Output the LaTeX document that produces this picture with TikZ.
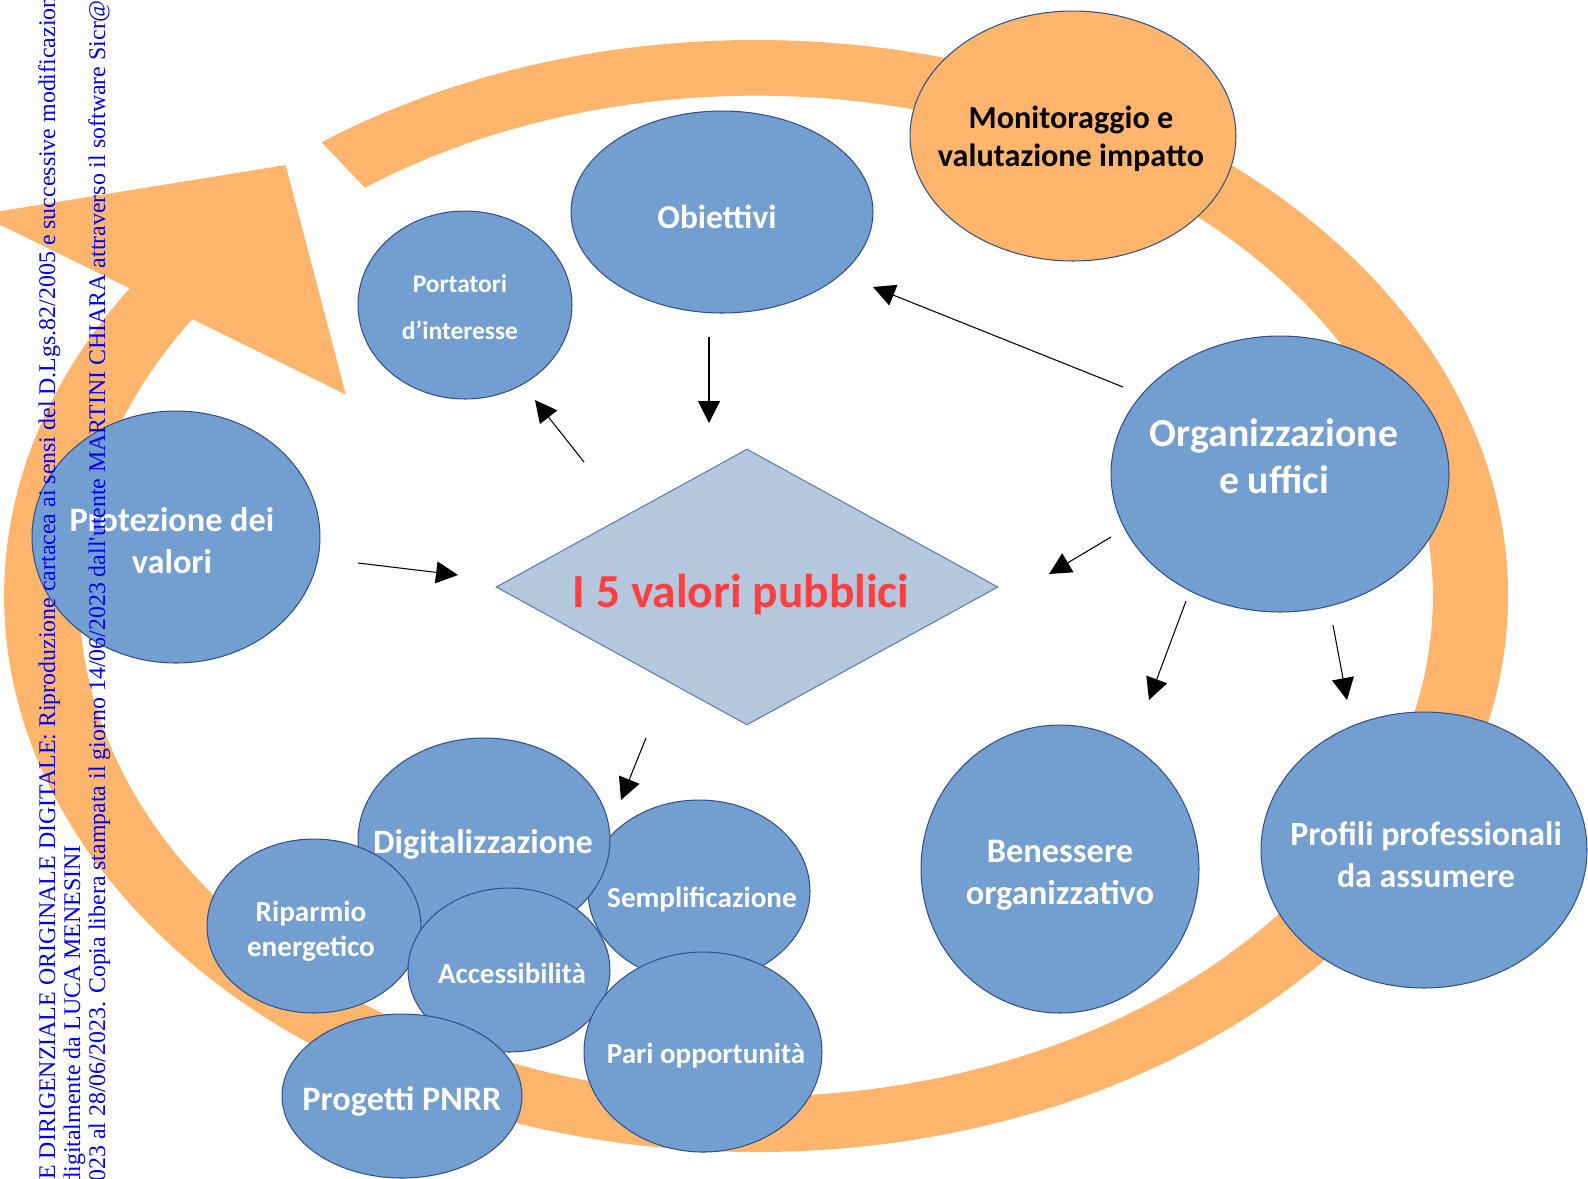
\documentclass[tikz,border=0pt]{standalone}
\usepackage{fontspec}
\setmainfont{Carlito}
\newfontfamily\timbrofont{Liberation Serif}
\usetikzlibrary{arrows.meta,shapes.geometric}
\definecolor{anello}{HTML}{FFB56B}
\definecolor{blu}{HTML}{729FCF}
\definecolor{bordo}{HTML}{2F528F}
\definecolor{rombo}{HTML}{B4C7DC}
\definecolor{rosso}{HTML}{FF3F3F}
\definecolor{timbroblu}{HTML}{0000FF}

\tikzset{
  valore/.style={ellipse, draw=bordo, line width=0.6pt, fill=blu, inner sep=0pt},
  testo/.style={text=white, align=center, inner sep=0pt},
  freccia/.style={-{Triangle[length=12.5pt,width=12.5pt]}, line width=0.6pt},
  timbro/.style={rotate=90, text=timbroblu, inner sep=0pt, font=\timbrofont\fontsize{13.6}{14}\selectfont},
}

\begin{document}
\begin{tikzpicture}[x=0.02cm,y=-0.02cm]
  \useasboundingbox (0,0) rectangle (1588,1178);
  \clip (0,0) rectangle (1588,1178);
  % the circular arrow, a ring with its head at the upper left
  \begin{scope}[shift={(756,596)},xscale=752,yscale=-556]
    \fill[anello] (125.3:1) arc[start angle=125.3,end angle=-213.6,radius=1]
      -- (-213.6:1.24) -- (128.9:0.996) -- (-213.6:0.655) -- (-213.6:0.9)
      arc[start angle=-213.6,end angle=125.3,radius=0.9] -- cycle;
  \end{scope}

  \node[valore, fill=anello, minimum width=6.52cm, minimum height=5cm] (mon) at (1073,136) {};
  \node[testo, text=black, font=\fontsize{18.3}{21.5}\selectfont\bfseries] (mon-t) at (1071,139) {Monitoraggio e\\valutazione impatto};

  \node[valore, minimum width=6.04cm, minimum height=4.04cm] (obj) at (722,212) {};
  \node[testo, font=\fontsize{19}{23}\selectfont\bfseries] (obj-t) at (717,217) {Obiettivi};

  \node[valore, minimum width=4.28cm, minimum height=3.76cm] (port) at (465,305) {};
  \node[testo, font=\fontsize{14.5}{27}\selectfont\bfseries] (port-t) at (460,307) {Portatori\\d’interesse};

  \node[valore, minimum width=5.76cm, minimum height=5.04cm] (prot) at (176,537) {};
  \node[testo, font=\fontsize{19.5}{24}\selectfont\bfseries] (prot-t) at (172,541) {Protezione dei\\valori};

  \node[diamond, draw=blu!60!bordo, line width=0.6pt, fill=rombo, aspect=1.82,
        minimum width=10.04cm, minimum height=5.52cm, inner sep=0pt] (valori) at (747,587) {};
  \node[testo, text=rosso, font=\fontsize{27}{31}\selectfont\bfseries] (valori-t) at (741,595) {I 5 valori pubblici};

  \node[valore, minimum width=6.76cm, minimum height=5.52cm] (org) at (1280,474) {};
  \node[testo, font=\fontsize{22.6}{26.6}\selectfont\bfseries] (org-t) at (1274,456) {Organizzazione\\e uffici};

  \node[valore, minimum width=5.56cm, minimum height=5.76cm] (ben) at (1060,869) {};
  \node[testo, font=\fontsize{19.6}{24}\selectfont\bfseries] (ben-t) at (1060,875) {Benessere\\organizzativo};

  \node[valore, minimum width=6.52cm, minimum height=5.52cm] (prof) at (1424,850) {};
  \node[testo, font=\fontsize{19.3}{24}\selectfont\bfseries] (prof-t) at (1426,855) {Profili professionali\\da assumere};

  % the cluster of values at the bottom
  \node[valore, minimum width=4.44cm, minimum height=3.64cm] (sempl) at (699,891) {};
  \node[testo, font=\fontsize{16.6}{20}\selectfont\bfseries] (sempl-t) at (702,900) {Semplificazione};
  \node[valore, minimum width=5.04cm, minimum height=4.08cm] (dig) at (484,840) {};
  \node[testo, font=\fontsize{19.5}{23}\selectfont\bfseries] (dig-t) at (483,844) {Digitalizzazione};
  \node[valore, minimum width=4.28cm, minimum height=3.48cm] (rip) at (314,926) {};
  \node[testo, font=\fontsize{16.6}{20}\selectfont\bfseries] (rip-t) at (311,931) {Riparmio\\energetico};
  \node[valore, minimum width=4.04cm, minimum height=3.28cm] (acc) at (509,970) {};
  \node[testo, font=\fontsize{16.5}{20}\selectfont\bfseries] (acc-t) at (512,973) {Accessibilità};
  \node[valore, minimum width=4.76cm, minimum height=4cm] (pari) at (703,1052) {};
  \node[testo, font=\fontsize{16.5}{20}\selectfont\bfseries] (pari-t) at (706,1056) {Pari opportunità};
  \node[valore, minimum width=4.8cm, minimum height=3.28cm] (pnrr) at (402,1096) {};
  \node[testo, font=\fontsize{19.5}{23}\selectfont\bfseries] (pnrr-t) at (402,1101) {Progetti PNRR};

  % loose ends of the arrows
  \coordinate (valori-nw) at (584,462);
  \coordinate (port-se) at (535,400);
  \coordinate (obj-s) at (709,337);
  \coordinate (valori-n) at (709,423);
  \coordinate (org-nw) at (1123,387);
  \coordinate (obj-se) at (873,287);
  \coordinate (prot-e) at (358,563);
  \coordinate (valori-w) at (458,575);
  \coordinate (org-w) at (1111,537);
  \coordinate (valori-e) at (1049,574);
  \coordinate (org-s) at (1186,601);
  \coordinate (ben-n) at (1149,700);
  \coordinate (org-se) at (1333,625);
  \coordinate (prof-n) at (1347,700);
  \coordinate (valori-s) at (646,738);
  \coordinate (dig-ne) at (621,800);

  \draw[freccia] (valori-nw) -- (port-se);
  \draw[freccia] (obj-s) -- (valori-n);
  \draw[freccia] (org-nw) -- (obj-se);
  \draw[freccia] (prot-e) -- (valori-w);
  \draw[freccia] (org-w) -- (valori-e);
  \draw[freccia] (org-s) -- (ben-n);
  \draw[freccia] (org-se) -- (prof-n);
  \draw[freccia] (valori-s) -- (dig-ne);

  % stamp along the left margin
  \node[timbro, anchor=base west] (riga1) at (55,1180) {E DIRIGENZIALE ORIGINALE DIGITALE: Riproduzione cartacea ai sensi del D.Lgs.82/2005 e successive modificazioni};
  \node[timbro, anchor=base east] (riga2) at (80,845) {digitalmente da LUCA MENESINI};
  \node[timbro, anchor=base west] (riga3) at (105,1182) {023 al 28/06/2023. Copia libera stampata il giorno 14/06/2023 dall'utente MARTINI CHIARA attraverso il software Sicr@};
\end{tikzpicture}
\end{document}
